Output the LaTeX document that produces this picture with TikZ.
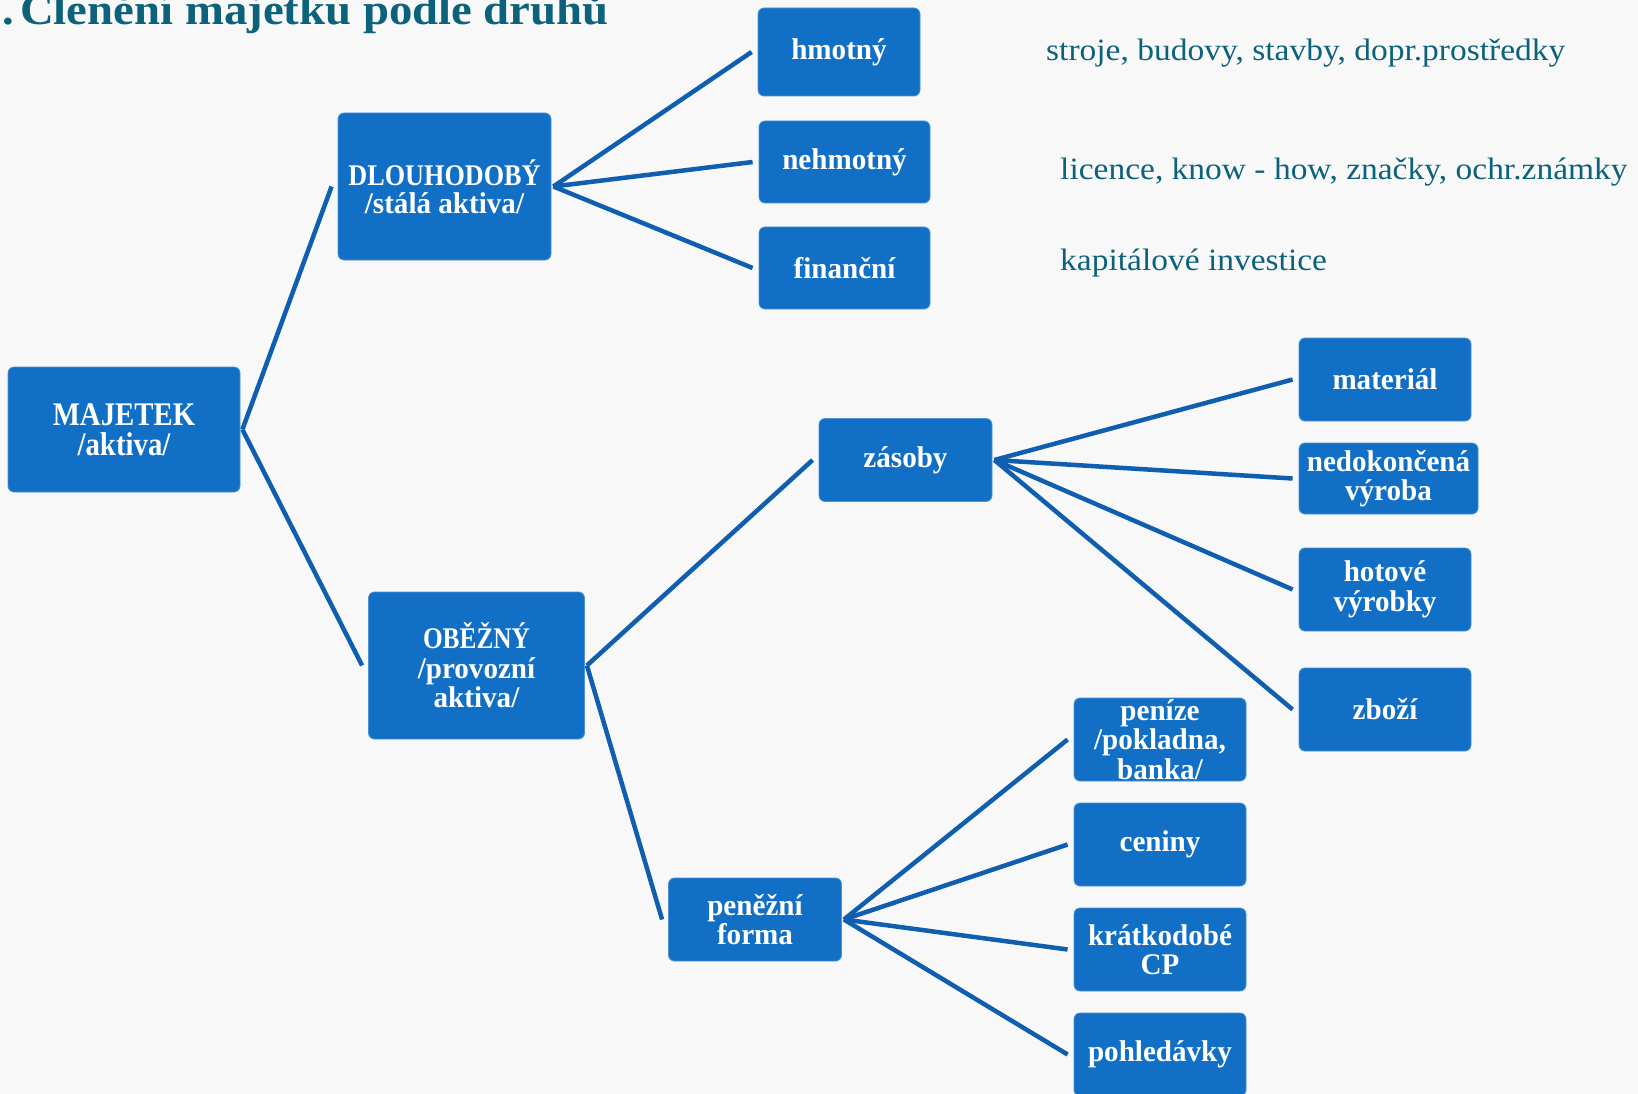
\documentclass[tikz,border=0pt]{standalone}
\usepackage{fontspec}
\setmainfont[FakeStretch=1.08]{Liberation Serif}
\newfontfamily\boxfont[FakeStretch=0.97]{Liberation Serif}
\usepackage{graphicx}
\definecolor{boxblue}{RGB}{17,111,197}
\definecolor{lineblue}{RGB}{16,94,176}
\definecolor{titlecol}{RGB}{12,98,122}
\definecolor{bgcol}{RGB}{248,248,248}
\newcommand{\nx}[1]{\scalebox{0.9}[1]{#1}}
\begin{document}
\begin{tikzpicture}[x=1pt,y=-1pt,
  bx/.style={fill=boxblue, draw=boxblue!75!white, line width=0.8pt, rounded corners=6pt,
    text=white, align=center, inner sep=0pt, font=\boxfont\bfseries\fontsize{30}{29.5}\selectfont},
  conn/.style={draw=lineblue, line width=4.5pt},
  note/.style={anchor=base west, inner sep=0pt, text=titlecol, font=\fontsize{31}{36}\selectfont}]
\useasboundingbox (0,0) rectangle (1638,1094);
\clip (0,0) rectangle (1638,1094);
\fill[bgcol] (0,0) rectangle (1638,1094);

% title
\node[anchor=base west, inner sep=0pt, text=titlecol, font=\bfseries\fontsize{43.3}{48}\selectfont]
  (title) at (20,25) {\llap{1.\kern6pt}Členění majetku podle druhů};

% notes
\node[note] (n1) at (1046,61) {stroje, budovy, stavby, dopr.prostředky};
\node[note] (n2) at (1060,180) {licence, know - how, značky, ochr.známky};
\node[note] (n3) at (1060,270) {kapitálové investice};

% boxes
\node[bx, minimum width=232, minimum height=125, font=\boxfont\bfseries\fontsize{33}{30}\selectfont]
  (maj) at (124,429.5) {\nx{MAJETEK}\\\nx{/aktiva/}};
\node[bx, minimum width=213, minimum height=147, font=\boxfont\bfseries\fontsize{30}{28}\selectfont]
  (dl) at (444.5,186.5) {\nx{DLOUHODOBÝ}\\/stálá aktiva/};
\node[bx, minimum width=216, minimum height=147]
  (ob) at (476.5,665.5) {\scalebox{0.87}[1]{OBĚŽNÝ}\\/provozní\\aktiva/};

\node[bx, minimum width=162, minimum height=88] (hm) at (839,52) {hmotný};
\node[bx, minimum width=171, minimum height=82] (nh) at (844.5,162) {nehmotný};
\node[bx, minimum width=171, minimum height=82] (fi) at (844.5,268) {finanční};

\node[bx, minimum width=173, minimum height=83] (za) at (905.5,460) {zásoby};
\node[bx, minimum width=172, minimum height=83] (ma) at (1385,379.5) {materiál};
\node[bx, minimum width=179, minimum height=71] (ne) at (1388.5,478.5) {nedokončená\\výroba};
\node[bx, minimum width=172, minimum height=83] (ho) at (1385,589.5) {hotové\\výrobky};
\node[bx, minimum width=172, minimum height=83] (zb) at (1385,709.5) {zboží};

\node[bx, minimum width=173, minimum height=83] (pf) at (755,919.5) {peněžní\\forma};
\node[bx, minimum width=172, minimum height=83] (pe) at (1160,739.5) {peníze\\/pokladna,\\banka/};
\node[bx, minimum width=172, minimum height=83] (ce) at (1160,844.5) {ceniny};
\node[bx, minimum width=172, minimum height=83] (kr) at (1160,949.5) {krátkodobé\\CP};
\node[bx, minimum width=172, minimum height=83] (po) at (1160,1054.5) {pohledávky};

% connectors
\foreach \p/\c in {maj/dl, maj/ob, dl/hm, dl/nh, dl/fi, ob/za, ob/pf,
                   za/ma, za/ne, za/ho, za/zb, pf/pe, pf/ce, pf/kr, pf/po}
  \draw[conn] ([xshift=2pt]\p.east) -- ([xshift=-6pt]\c.west);
\end{tikzpicture}
\end{document}
